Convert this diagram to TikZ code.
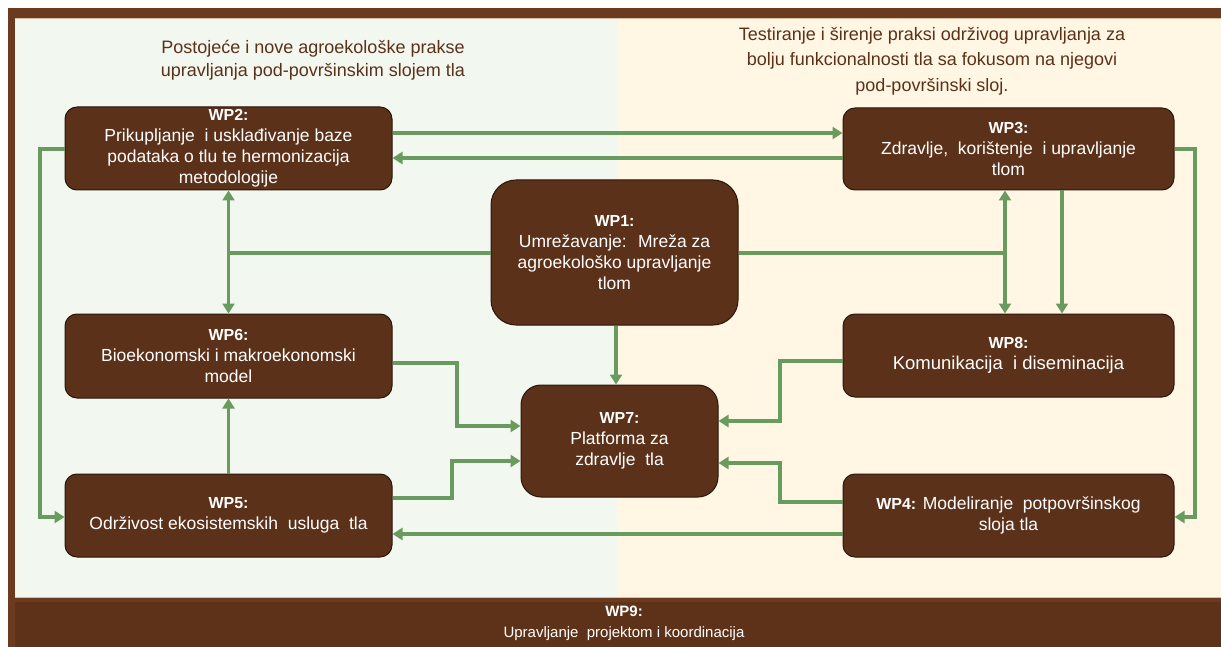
\documentclass[tikz,border=0pt]{standalone}
\usepackage{fontspec}
\setmainfont{Liberation Sans}
\usetikzlibrary{arrows.meta,calc}
\definecolor{framec}{HTML}{6B3A1F}
\definecolor{barc}{HTML}{5E3219}
\definecolor{boxc}{HTML}{5C311A}
\definecolor{edgec}{HTML}{2A160B}
\definecolor{grn}{HTML}{6A9B5E}
\definecolor{leftbg}{HTML}{F2F7EF}
\definecolor{rightbg}{HTML}{FFF6E3}
\definecolor{headc}{HTML}{5C3119}
\definecolor{sepc}{HTML}{D9BFA3}
\newcommand\wpn[1]{{\fontsize{16}{21}\selectfont\bfseries #1}}
\begin{document}
\begin{tikzpicture}[x=1pt,y=-1pt,
  wpbox/.style={draw=edgec, line width=1pt, fill=boxc, rounded corners=12pt,
    text=white, align=center, font=\fontsize{17.5}{21}\selectfont, inner sep=0pt},
  conn/.style={draw=grn, line width=3.5pt},
  arr/.style={conn, -{Triangle[length=10pt,width=12pt]}},
  arrb/.style={conn, {Triangle[length=10pt,width=12pt]}-{Triangle[length=10pt,width=12pt]}},
  headtxt/.style={text=headc, align=center, inner sep=0pt}
]
\useasboundingbox (0,0) rectangle (1221,647);
% background and frame
\fill[white] (0,0) rectangle (1221,647);
\fill[framec] (8,8) rectangle (1221,647);
\fill[leftbg] (15,18) rectangle (618,597);
\fill[rightbg] (618,18) rectangle (1221,597);
\draw[sepc, line width=1pt] (15,18.5) -- (1221,18.5);
\draw[sepc, line width=1pt] (15,597.5) -- (1221,597.5);
\fill[barc] (15,602) rectangle (1221,647);

% headers
\node[headtxt, font=\fontsize{18}{23}\selectfont] (hl) at (313,60)
  {Postojeće i nove agroekološke prakse\\upravljanja pod-površinskim slojem tla};
\node[headtxt, font=\fontsize{18}{25.5}\selectfont] (hr) at (932,61)
  {Testiranje i širenje praksi održivog upravljanja za\\bolju funkcionalnosti tla sa fokusom na njegovi\\pod-površinski sloj.};

% boxes
\node[wpbox, minimum width=327pt, minimum height=83pt] (wp2) at (228.5,148.5)
  {\wpn{WP2:}\\Prikupljanje~ i usklađivanje baze\\podataka o tlu te hermonizacija\\metodologije};
\node[wpbox, minimum width=331pt, minimum height=82pt] (wp3) at (1008.5,149)
  {\wpn{WP3:}\\Zdravlje,~ korištenje~ i upravljanje\\tlom};
\node[wpbox, rounded corners=25pt, minimum width=247pt, minimum height=145pt] (wp1) at (614.5,252.5)
  {\wpn{WP1:}\\Umrežavanje:~ Mreža za\\agroekološko upravljanje\\tlom};
\node[wpbox, minimum width=327pt, minimum height=84pt] (wp6) at (228.5,356)
  {\wpn{WP6:}\\Bioekonomski i makroekonomski\\model};
\node[wpbox, minimum width=331pt, minimum height=83pt, font=\fontsize{18.5}{21}\selectfont] (wp8) at (1008.5,355.5)
  {\wpn{WP8:}\\Komunikacija~ i diseminacija};
\node[wpbox, rounded corners=20pt, minimum width=197pt, minimum height=112pt] (wp7) at (619.5,441)
  {\wpn{WP7:}\\Platforma za\\zdravlje~ tla};
\node[wpbox, minimum width=327pt, minimum height=83pt] (wp5) at (228.5,515.5)
  {\wpn{WP5:}\\Održivost ekosistemskih~ usluga~ tla};
\node[wpbox, minimum width=331pt, minimum height=83pt] (wp4) at (1008.5,515.5)
  {\wpn{WP4:} Modeliranje~ potpovršinskog\\sloja tla};

% WP9 bar
\node[text=white, align=center, inner sep=0pt, font=\fontsize{15}{21}\selectfont] (wp9) at (624,623.5)
  {{\fontsize{15}{21}\selectfont\bfseries WP9:}\\Upravljanje~ projektom i koordinacija};

% connectors
\draw[arr] (wp2.east |- 0,133) -- (wp3.west |- 0,133);
\draw[arr] (wp3.west |- 0,158) -- (wp2.east |- 0,158);
\draw[arr] (wp2.west |- 0,149) -- (40,149) -- (40,517) -- (wp5.west |- 0,517);
\draw[conn] (wp1.west |- 0,253) -- (wp2.south |- 0,253);
\draw[arrb] (wp2.south) -- (wp6.north);
\draw[conn] (wp1.east |- 0,253) -- (1005,253);
\draw[arrb] (wp3.south -| 1005,0) -- (wp8.north -| 1005,0);
\draw[arr] (wp3.south -| 1062,0) -- (wp8.north -| 1062,0);
\draw[arr] (wp3.east |- 0,149) -- (1195,149) -- (1195,517) -- (wp4.east |- 0,517);
\draw[arr] (wp1.south -| 616,0) -- (wp7.north -| 616,0);
\draw[arr] (wp6.east |- 0,363) -- (457,363) -- (457,426) -- (wp7.west |- 0,426);
\draw[arr] (wp5.north) -- (wp6.south);
\draw[arr] (wp5.east |- 0,498) -- (452,498) -- (452,461) -- (wp7.west |- 0,461);
\draw[arr] (wp8.west |- 0,361) -- (780,361) -- (780,421) -- (wp7.east |- 0,421);
\draw[arr] (wp4.west |- 0,502) -- (780,502) -- (780,463) -- (wp7.east |- 0,463);
\draw[arr] (wp4.west |- 0,534) -- (wp5.east |- 0,534);
\end{tikzpicture}
\end{document}
